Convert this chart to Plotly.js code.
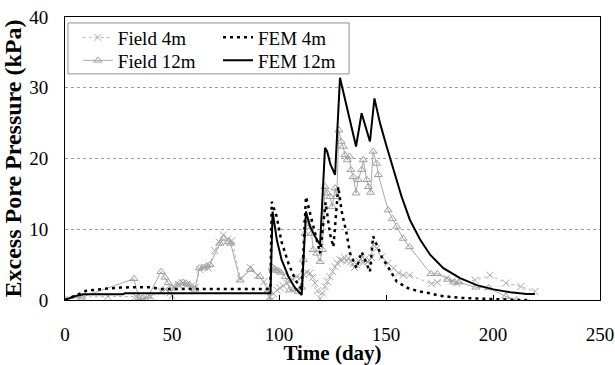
<!DOCTYPE html>
<html>
<head>
<meta charset="utf-8">
<script src="https://cdn.plot.ly/plotly-3.0.1.min.js"></script>
<style>html,body{margin:0;padding:0;background:#fff;}#chart{width:615px;height:365px;}</style>
</head>
<body>
<div id="chart"></div>
<script>
// [day, kPa]
const field4m = [
  [0,0.1],[7.5,0.4],[20,0.5],[33,0.5],[34.5,0.2],[36,0.0],[38,0.3],[40,0.5],[45,1.2],[47,1.5],[49,1.0],[50,0.6],
  [51,1.8],[53,2.2],[55,2.4],[57,2.2],[59,2.0],[61,1.8],[63,4.3],[65,4.6],[67,4.5],[70,7.0],[72,8.2],[74,9.2],
  [76,8.6],[78,8.4],[82,3.0],[86.5,4.6],[90,3.5],[93,2.6],[95.5,0.5],[96.5,0.0],[97.5,0.9],[99,1.4],[100.5,1.7],
  [102,2.0],[103.6,2.4],[105,2.6],[106.5,2.9],[108.3,3.3],[110,3.1],[111.4,3.6],[113,3.9],[114.5,3.8],[115.7,3.2],
  [116.8,2.4],[118,1.3],[119.2,0.2],[120.3,1.0],[121.5,1.9],[122.6,2.6],[123.8,3.3],[125,4.0],[126.2,4.7],
  [127.3,5.2],[128.5,5.7],[129.5,5.6],[130.5,6.0],[131.5,5.5],[132.5,5.9],[133.5,5.4],[134.5,5.1],[135.3,4.6],
  [136.3,5.0],[137.3,5.5],[138.3,5.8],[139.3,5.3],[140.3,5.8],[141.3,5.4],[142.3,5.6],[143.2,6.0],[144,7.8],
  [145.6,7.3],[148,6.1],[151,5.2],[153.5,4.5],[155.8,3.8],[158,3.5],[161,3.5],[171.3,2.3],[174,2.5],[178.4,3.1],
  [181,2.7],[183,2.4],[191.6,2.8],[198.6,3.5],[206,2.4],[213,1.9],[219.6,1.2]
];
const field12m = [
  [0,0.1],[7.8,0.4],[32.2,3.0],[34.5,0.3],[36,0.2],[38.9,0.5],[44.9,4.0],[46.7,3.2],[48.3,2.45],[49.8,1.65],
  [52.3,2.1],[53.8,2.4],[55.3,2.5],[56.8,2.3],[58.3,2.1],[60.7,1.5],[62.8,4.5],[64.7,4.6],[66.2,4.8],[67.8,5.0],
  [72.4,8.0],[74.3,8.7],[76.3,8.2],[77.4,8.0],[81.8,2.8],[86.7,4.3],[91.1,3.3],[95,1.4],[95.8,0.0],[96.8,4.6],
  [97.8,4.4],[98.8,4.2],[99.8,4.1],[100.8,3.9],[103,3.3],[105,1.4],[107,1.6],[109,1.2],[110.5,1.8],[111.4,5.7],
  [112.1,9.4],[113,11.3],[114.2,10.4],[115.2,9.4],[116,7.1],[117.6,6.6],[119.2,5.4],[120.3,7.1],[121.5,16.0],
  [122.6,15.1],[123.8,14.6],[124.9,13.2],[126.2,15.8],[127,14.6],[128,24.0],[129,22.4],[130,21.7],[130.8,20.5],
  [131.9,19.8],[132.9,20.3],[133.6,18.4],[134.7,17.4],[136,15.1],[137,17.0],[138.6,18.4],[139.4,19.8],[141,17.0],
  [141.8,16.0],[142.8,15.2],[144,21.0],[145.6,19.3],[146.4,17.7],[151,12.7],[153,11.5],[155,10.4],[158,8.7],
  [161,7.5],[171,3.7],[174,3.7],[179,2.9],[182,2.5],[184,2.5],[192,1.8],[198,1.7],[206,0.5],[211,0.0],[217,-0.4]
];
const fem4m = [
  [0,0],[5.5,0.7],[10,1.3],[15.6,1.5],[20,1.65],[25.7,1.75],[30,1.8],[40.5,1.8],[44,1.55],[96,1.55],[96.6,13.9],
  [98.9,11.8],[101.2,8.2],[104.4,5.2],[107.5,2.9],[110.6,1.5],[112.6,14.6],[114.8,11.8],[117.6,8.5],[119.2,6.6],
  [121.8,13.8],[123.8,9.4],[125.4,7.5],[127.7,16.0],[129.3,12.5],[131.6,9.4],[133.2,6.6],[136.3,4.5],[138.6,6.8],
  [142.5,4.0],[144,9.0],[148,6.1],[151.9,4.2],[155,2.6],[160.4,1.65],[166,1.2],[170.6,0.95],[175,0.6],[184.6,0.3],
  [192.4,0.2],[200,0.05],[211,0.0],[216,0.0]
];
const fem12m = [
  [0,0],[4,0.5],[8.6,0.8],[27,0.8],[28,0.95],[96,0.95],[97,12.5],[99,8.5],[101.2,5.7],[104.4,3.3],[107.5,1.7],
  [110.6,0.7],[112.6,12.5],[114.5,10.4],[116.8,9.0],[119.2,7.8],[121.5,21.5],[122.5,21.0],[124,19.2],[126.2,17.7],
  [128.5,31.4],[130,29.5],[131.9,26.9],[134,24.0],[136,21.7],[138.6,26.4],[140.5,24.5],[142.5,22.4],[144.6,28.5],
  [147.2,25.0],[150.3,21.7],[153.4,18.4],[157.3,14.6],[161.2,11.3],[166,8.5],[170.6,6.4],[176.8,4.5],[184.6,3.1],
  [192.4,2.1],[200.2,1.5],[208,1.1],[215.7,0.85],[219.6,0.85]
];
const seriesNames = ['Field 4m', 'Field 12m', 'FEM 4m', 'FEM 12m'];
const xTicks = [0, 50, 100, 150, 200, 250];
const yTicks = [0, 10, 20, 30, 40];

const serif = "'Liberation Serif', 'Times New Roman', Times, serif";
const xs = a => a.map(p => p[0]);
const ys = a => a.map(p => p[1]);

const traces = [
  {x: xs(field4m), y: ys(field4m), name: seriesNames[0], mode: 'lines+markers', legend: 'legend',
   line: {color: '#b8b8b8', width: 1, dash: 'dot'},
   marker: {symbol: 'x-thin-open', size: 7, color: '#a8a8a8', line: {color: '#a8a8a8', width: 1}}},
  {x: xs(field12m), y: ys(field12m), name: seriesNames[1], mode: 'lines+markers', legend: 'legend2',
   line: {color: '#a8a8a8', width: 1},
   marker: {symbol: 'triangle-up-open', size: 7, color: '#a0a0a0', line: {color: '#a0a0a0', width: 1}}},
  {x: xs(fem4m), y: ys(fem4m), name: seriesNames[2], mode: 'lines', legend: 'legend3',
   line: {color: '#000', width: 2.5, dash: '3px,4px'}},
  {x: xs(fem12m), y: ys(fem12m), name: seriesNames[3], mode: 'lines', legend: 'legend4',
   line: {color: '#000', width: 2}}
];

function leg(x, y) {
  return {x: x, y: y, xanchor: 'left', yanchor: 'top', bgcolor: 'rgba(0,0,0,0)',
          borderwidth: 0, font: {family: serif, size: 19, color: '#000'}, tracegroupgap: 0};
}

const layout = {
  width: 615, height: 365,
  margin: {l: 65, r: 15, t: 17, b: 65},
  paper_bgcolor: '#fff', plot_bgcolor: '#fff',
  font: {family: serif, color: '#000', size: 19},
  showlegend: true,
  xaxis: {
    range: [0, 250], tickvals: xTicks, ticktext: xTicks.map(String),
    ticks: 'inside', ticklen: 5, tickcolor: '#000',
    showline: true, mirror: true, linecolor: '#000', linewidth: 1,
    showgrid: false, zeroline: false,
    tickfont: {family: serif, size: 19, color: '#000'},
    ticklabelstandoff: 17,
    title: {text: '<b>Time (day)</b>', font: {family: serif, size: 21, color: '#000'}, standoff: 0}
  },
  yaxis: {
    range: [0, 40], tickvals: yTicks, ticktext: yTicks.map(String),
    ticks: '', showline: true, mirror: true, linecolor: '#000', linewidth: 1,
    showgrid: true, gridcolor: '#a0a0a0', griddash: 'dot', gridwidth: 1, zeroline: false,
    tickfont: {family: serif, size: 19, color: '#000'},
    ticklabelstandoff: 12,
    title: {text: '<b>Excess Pore Pressure (kPa)</b>', font: {family: serif, size: 24, color: '#000'}, standoff: 0}
  },
  legend: leg(0.024, 0.9947),
  legend2: leg(0.024, 0.9134),
  legend3: leg(0.286, 0.9947),
  legend4: leg(0.286, 0.9134),
  shapes: [{type: 'rect', xref: 'paper', yref: 'paper', x0: 0.0056, x1: 0.531, y0: 0.799, y1: 0.979,
            line: {color: '#909090', width: 1}, fillcolor: '#fff', layer: 'below'}]
};

Plotly.newPlot('chart', traces, layout, {displayModeBar: false, staticPlot: true});
</script>
</body>
</html>
